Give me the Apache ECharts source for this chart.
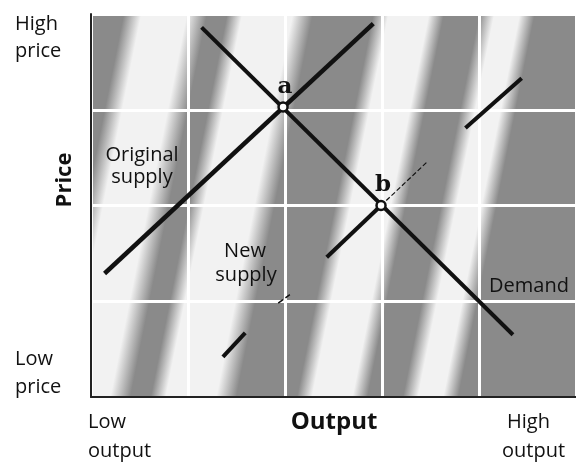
<!DOCTYPE html>
<html><head><meta charset="utf-8">
<script src="https://cdn.jsdelivr.net/npm/echarts@6/dist/echarts.min.js"></script>
<style>html,body{margin:0;padding:0;background:#fff}#c{width:576px;height:465px}</style>
</head><body><div id="c"></div>
<script>
// Axes run in grid units: output 0..5 (low→high), price 0..4 (low→high)
const xRange = [0, 5];
const yRange = [0, 4];
const originalSupply = [[0.14, 1.29], [2.91, 3.90]];
const demand = [[1.14, 3.86], [4.35, 0.65]];
const newSupplyLow = [[1.36, 0.42], [1.59, 0.67]];
const newSupplyMid = [[2.43, 1.46], [2.99, 2.00]];
const newSupplyHigh = [[3.86, 2.81], [4.44, 3.33]];
const newSupplyFaint1 = [[1.93, 0.98], [2.05, 1.07]];
const newSupplyFaint2 = [[2.99, 2.00], [3.46, 2.45]];
const equilibria = [{ name: 'a', value: [1.98, 3.03] }, { name: 'b', value: [2.99, 2.00] }];
const textFont = '"Open Sans", sans-serif';

const G = '#8a8a8a', W = '#f2f2f2';
const bg = new echarts.graphic.LinearGradient(0, 0, 1, 0.253, [
  {offset: 0, color: G}, {offset: 0.065, color: G}, {offset: 0.1, color: W}, {offset: 0.19, color: W},
  {offset: 0.23, color: G}, {offset: 0.27, color: G}, {offset: 0.3, color: W}, {offset: 0.4, color: W},
  {offset: 0.44, color: G}, {offset: 0.56, color: G}, {offset: 0.59, color: W}, {offset: 0.67, color: W},
  {offset: 0.7, color: G}, {offset: 0.77, color: G}, {offset: 0.8, color: W}, {offset: 0.85, color: W},
  {offset: 0.88, color: G}, {offset: 1, color: G}
]);

function seg(data, width, type) {
  return { type: 'line', data: data, symbol: 'none', silent: true, z: 3,
    lineStyle: { color: '#111', width: width, type: type || 'solid', cap: 'butt' } };
}
function txt(text, x, y, opts) {
  opts = opts || {};
  return { type: 'text', x: x, y: y, rotation: opts.rot || 0, z: 100,
    style: { text: text, font: (opts.bold ? 'bold ' : '') + (opts.size || 20) + 'px ' + textFont,
      fill: '#111', textAlign: opts.align || 'left', textVerticalAlign: 'middle' } };
}

const chart = echarts.init(document.getElementById('c'), null, { renderer: 'canvas' });
chart.setOption({
  animation: false,
  backgroundColor: '#fff',
  grid: { left: 91, right: 0, top: 14, bottom: 68, show: true, backgroundColor: bg, borderWidth: 0 },
  xAxis: { type: 'value', min: xRange[0], max: xRange[1], interval: 1,
    axisLine: { show: true, lineStyle: { color: '#222', width: 2 } },
    axisTick: { show: false }, axisLabel: { show: false },
    splitLine: { show: true, lineStyle: { color: '#fff', width: 3 } } },
  yAxis: { type: 'value', min: yRange[0], max: yRange[1], interval: 1,
    axisLine: { show: true, lineStyle: { color: '#222', width: 2 } },
    axisTick: { show: false }, axisLabel: { show: false },
    splitLine: { show: true, lineStyle: { color: '#fff', width: 3 } } },
  series: [
    seg(originalSupply, 4.5),
    seg(demand, 4),
    seg(newSupplyLow, 4),
    seg(newSupplyMid, 4),
    seg(newSupplyHigh, 4),
    seg(newSupplyFaint1, 1.5, 'dashed'),
    seg(newSupplyFaint2, 1.2, 'dashed'),
    { type: 'scatter', data: equilibria, symbol: 'circle', symbolSize: 9, z: 5, silent: true,
      itemStyle: { color: '#fff', borderColor: '#111', borderWidth: 2.5, opacity: 1 },
      label: { show: true, formatter: p => p.name, position: 'top', distance: 3, offset: [2, 0],
        fontFamily: '"DejaVu Serif", serif', fontWeight: 'bold', fontSize: 23, color: '#111' } }
  ],
  graphic: [
    txt('High', 15, 24), txt('price', 15, 51),
    txt('Low', 15, 359), txt('price', 15, 387),
    txt('Price', 65, 180, { bold: true, size: 22, align: 'center', rot: Math.PI / 2 }),
    txt('Low', 88, 422), txt('output', 88, 451),
    txt('Output', 334, 422, { bold: true, size: 24, align: 'center' }),
    txt('High', 507, 422), txt('output', 502, 451),
    txt('Original', 142, 155, { align: 'center' }), txt('supply', 142, 177, { align: 'center' }),
    txt('New', 245, 251, { align: 'center' }), txt('supply', 246, 275, { align: 'center' }),
    txt('Demand', 529, 286, { align: 'center' })
  ]
});
</script></body></html>
